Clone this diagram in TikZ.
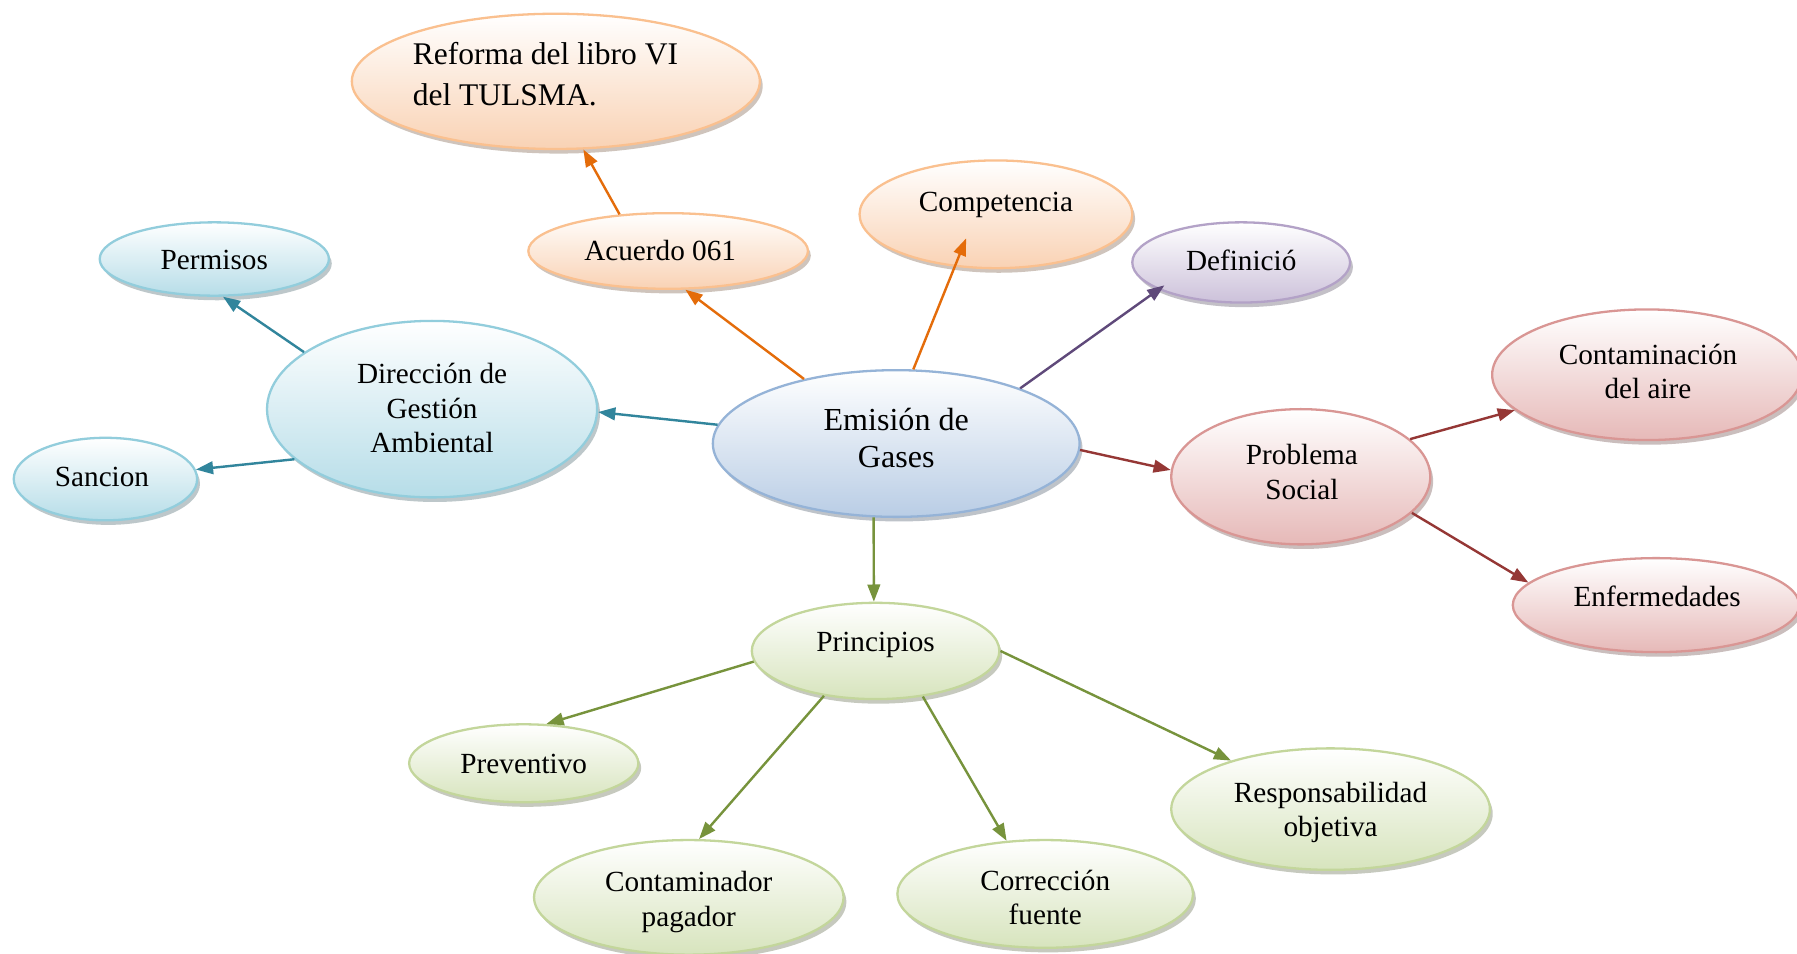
\documentclass[tikz,border=0pt]{standalone}
\usepackage{fontspec}
\setmainfont{Liberation Serif}
\usetikzlibrary{shapes.geometric,arrows.meta,shadows,calc}
\definecolor{orBd}{HTML}{FAC08F}
\definecolor{orFl}{HTML}{F9D2B4}
\definecolor{orAr}{HTML}{E46C0A}
\definecolor{blBd}{HTML}{92CDDC}
\definecolor{blFl}{HTML}{B6DDE8}
\definecolor{blAr}{HTML}{31859C}
\definecolor{emBd}{HTML}{95B3D7}
\definecolor{emFl}{HTML}{B9CDE5}
\definecolor{puBd}{HTML}{B3A2C7}
\definecolor{puFl}{HTML}{CCC1DA}
\definecolor{puAr}{HTML}{5F497A}
\definecolor{rdBd}{HTML}{D99694}
\definecolor{rdFl}{HTML}{E6B9B8}
\definecolor{rdAr}{HTML}{953735}
\definecolor{grBd}{HTML}{C3D69B}
\definecolor{grFl}{HTML}{D7E4BD}
\definecolor{grAr}{HTML}{77933C}
\tikzset{
  bubble/.style n args={2}{ellipse, inner sep=0pt, draw=#1, line width=2pt,
    top color=white, bottom color=#2,
    drop shadow={shadow xshift=2.5pt, shadow yshift=-4pt, fill=#2!60!black, opacity=0.45}},
  sz/.style 2 args={minimum width=#1pt, minimum height=#2pt},
  txt/.style={font=\fontsize{25.5}{30}\selectfont, align=center, inner sep=0pt},
  con/.style={draw=#1, line width=2.1pt, -{Triangle[length=15pt,width=11pt]}},
}
\begin{document}
\begin{tikzpicture}[x=1pt,y=-1pt]
\fill[white] (0,0) rectangle (1568,832);
\useasboundingbox (0,0) rectangle (1568,832);
\clip (0,0) rectangle (1568,832);
% bubbles
\node[bubble={orBd}{orFl}, sz={356}{118}] (ref) at (485,71) {};
\node[bubble={orBd}{orFl}, sz={244}{66}] (acu) at (583,219) {};
\node[bubble={orBd}{orFl}, sz={238}{94}] (comp) at (869,187) {};
\node[bubble={puBd}{puFl}, sz={190}{70}] (def) at (1083,229) {};
\node[bubble={blBd}{blFl}, sz={200}{64}] (per) at (187,226) {};
\node[bubble={blBd}{blFl}, sz={288}{154}] (dir) at (377,357) {};
\node[bubble={blBd}{blFl}, sz={160}{72}] (san) at (92,418) {};
\node[bubble={emBd}{emFl}, sz={320}{128}] (em) at (782,387) {};
\node[bubble={rdBd}{rdFl}, sz={226}{118}] (prob) at (1135,416) {};
\node[bubble={rdBd}{rdFl}, sz={270}{114}] (cont) at (1437,327) {};
\node[bubble={rdBd}{rdFl}, sz={250}{82}] (enf) at (1445,528) {};
\node[bubble={grBd}{grFl}, sz={216}{84}] (pri) at (764,568) {};
\node[bubble={grBd}{grFl}, sz={200}{68}] (prev) at (457,666) {};
\node[bubble={grBd}{grFl}, sz={270}{100}] (cpag) at (601,783) {};
\node[bubble={grBd}{grFl}, sz={258}{94}] (corr) at (912,780) {};
\node[bubble={grBd}{grFl}, sz={278}{106}] (resp) at (1161,706) {};
% texts
\node[txt, font=\fontsize{27.5}{36}\selectfont, align=left, anchor=west] (reft) at (360,65) {Reforma del libro VI\\del TULSMA.};
\node[txt] (acut) at (576,219) {Acuerdo 061};
\node[txt] (compt) at (869,179) {Competencia};
\node[txt] (deft) at (1083,227) {Definició};
\node[txt] (pert) at (187,227) {Permisos};
\node[txt] (dirt) at (377,356) {Dirección de\\Gestión\\Ambiental};
\node[txt] (sant) at (89,416) {Sancion};
\node[txt, font=\fontsize{28}{32}\selectfont] (emt) at (782,382) {Emisión de\\Gases};
\node[txt] (probt) at (1136,412) {Problema\\Social};
\node[txt] (contt) at (1438,324) {Contaminación\\del aire};
\node[txt] (enft) at (1446,520) {Enfermedades};
\node[txt] (prit) at (764,563) {Principios};
\node[txt] (prevt) at (457,667) {Preventivo};
\node[txt] (cpagt) at (601,787) {Contaminador\\pagador};
\node[txt] (corrt) at (912,783) {Corrección\\fuente};
\node[txt] (respt) at (1161,709) {Responsabilidad\\objetiva};
% connectors
\draw[con=blAr] (em.174) -- (dir.-1);
\draw[con=blAr] (dir.156) -- (per.-77);
\draw[con=blAr] (dir.200) -- (san.6);
\draw[con=orAr] (em.145) -- (acu.-66);
\draw[con=orAr] (acu.143) -- (ref.-68);
\draw[con=orAr] (em.77) -- ($(comp)+(-26,21)$);
\draw[con=puAr] (em.24) -- ($(def)+(-67,20)$);
\draw[con=rdAr] (em.-2) -- (prob.177);
\draw[con=rdAr] (prob.19) -- (cont.195);
\draw[con=rdAr] (prob.-18) -- (enf.170);
\draw[con=grAr] (em.-107) -- (pri.92);
\draw[con=grAr] (pri.185) -- (prev.60);
\draw[con=grAr] (pri.221) -- (cpag.80);
\draw[con=grAr] (pri.-44) -- (corr.126);
\draw[con=grAr] (pri.0) -- (resp.154);
\end{tikzpicture}
\end{document}
